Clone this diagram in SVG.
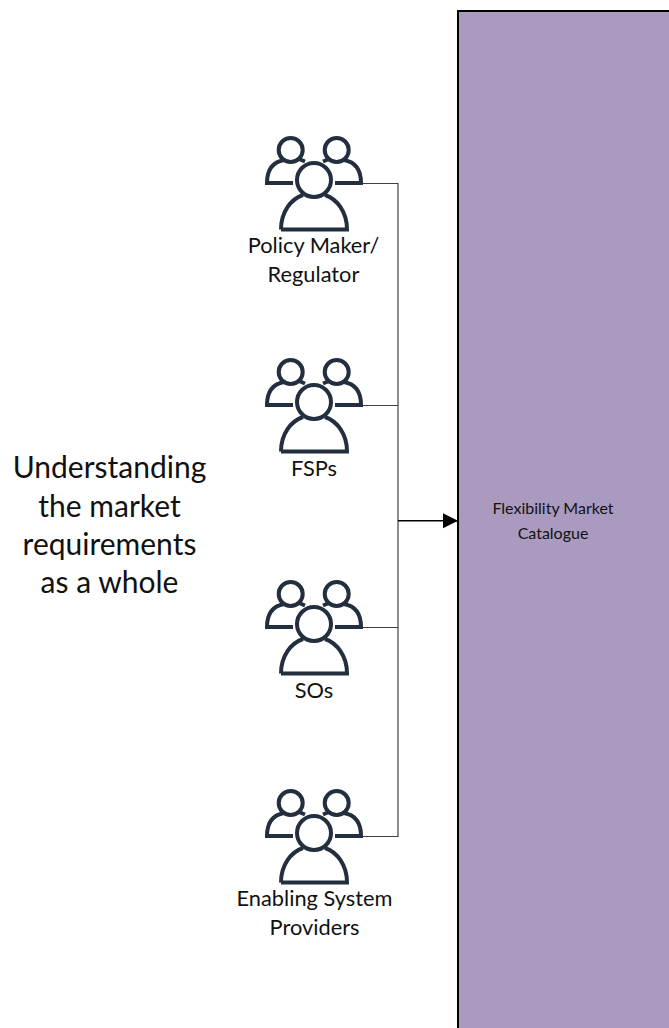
<svg xmlns="http://www.w3.org/2000/svg" width="669" height="1028" viewBox="0 0 669 1028">
<style>
.t{font-family:Lato,"Open Sans","Liberation Sans",sans-serif;fill:#111;text-anchor:middle}
.s{font-size:21.800px}
.b{font-size:30px}
.m{font-size:16px}
.i{fill:none;stroke:#232f3e;stroke-width:4}
.c{fill:none;stroke:#404040;stroke-width:1.2}
</style>
<defs>
<marker id="a" markerWidth="16" markerHeight="16" refX="15" refY="7.5" orient="auto" markerUnits="userSpaceOnUse"><path d="M0 0L15 7.5L0 15Z" fill="#000"/></marker>
<g id="p">
<circle cx="290.7" cy="150" r="12" class="i"/>
<circle cx="336.7" cy="150" r="12" class="i"/>
<circle cx="314" cy="180" r="17" class="i"/>
<path class="i" d="M293 183H267C267 170 273 162 284 160M335 183H361C361 170 355 162 344 160M299 159L305 161.500M329 159L323 161.500"/>
<path class="i" d="M281 229.500H347C347 212 337 199 325 195M281 229.500C281 212 291 199 303 195"/>
</g>
</defs>
<rect id="catalogue-box" x="458" y="11" width="220" height="1030" fill="#ab9ac0" stroke="#000" stroke-width="2"/>
<g id="connectors">
<path class="c" d="M361 183.500H398V836.500H361M361 405.500H398M361 627.500H398"/>
<path d="M398 520.700H458" fill="none" stroke="#000" stroke-width="1.500" marker-end="url(#a)"/>
</g>
<g id="policy"><use href="#p"/><text class="t s" x="313.500" y="253">Policy Maker/</text><text class="t s" x="313.500" y="282">Regulator</text></g>
<g id="fsps"><use href="#p" y="222"/><text class="t s" x="314" y="476">FSPs</text></g>
<g id="sos"><use href="#p" y="444"/><text class="t s" x="314" y="698">SOs</text></g>
<g id="esp"><use href="#p" y="653"/><text class="t s" x="314.500" y="906">Enabling System</text><text class="t s" x="314.500" y="935">Providers</text></g>
<g id="catalogue"><text class="t m" x="553" y="514">Flexibility Market</text><text class="t m" x="553" y="539">Catalogue</text></g>
<g id="caption"><text class="t b" x="109.500" y="478">Understanding</text><text class="t b" x="109.500" y="517">the market</text><text class="t b" x="109.500" y="555">requirements</text><text class="t b" x="109.500" y="593">as a whole</text></g>
</svg>
